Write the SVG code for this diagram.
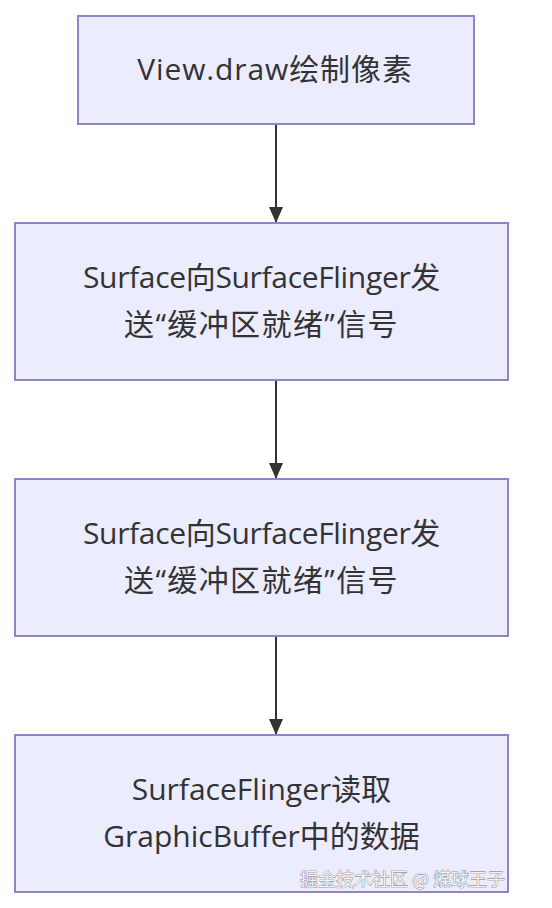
<svg xmlns="http://www.w3.org/2000/svg" width="552" height="908" viewBox="0 0 552 908">
<style>
.node rect{fill:#ECECFF;stroke:#9683c7;stroke-width:2}
.node text{font-family:"Open Sans","Noto Sans CJK SC",sans-serif;font-size:30px;fill:#333;text-anchor:middle}
.node text.l1{letter-spacing:-0.33px}
.node text.l2{letter-spacing:1.4px}
.edge{stroke:#333;stroke-width:2;fill:none}
.wm{font-family:"Noto Sans CJK SC",sans-serif;font-size:18px;fill:#f2f2f2;stroke:#6f6f6f;stroke-width:0.7;paint-order:stroke}
</style>
<defs>
<marker id="arrow" viewBox="0 0 16 14" refX="16" refY="7" markerWidth="16" markerHeight="14" markerUnits="userSpaceOnUse" orient="auto">
<path d="M0,0 L16,7 L0,14 Z" fill="#333"/>
</marker>
</defs>
<rect width="552" height="908" fill="#fff"/>
<g id="connectors">
<line class="edge" x1="276" y1="124" x2="276" y2="223" marker-end="url(#arrow)"/>
<line class="edge" x1="276" y1="380" x2="276" y2="479" marker-end="url(#arrow)"/>
<line class="edge" x1="276" y1="636" x2="276" y2="735" marker-end="url(#arrow)"/>
</g>
<g id="node1" class="node">
<rect x="78" y="16" width="396" height="108"/>
<text x="275" y="80" style="letter-spacing:0.9px">View.draw绘制像素</text>
</g>
<g id="node2" class="node">
<rect x="15" y="223" width="493" height="157"/>
<text class="l1" x="261.5" y="288">Surface向SurfaceFlinger发</text>
<text class="l2" x="261.5" y="335">送“缓冲区就绪”信号</text>
</g>
<g id="node3" class="node">
<rect x="15" y="479" width="493" height="157"/>
<text class="l1" x="261.5" y="544">Surface向SurfaceFlinger发</text>
<text class="l2" x="261.5" y="591">送“缓冲区就绪”信号</text>
</g>
<g id="node4" class="node">
<rect x="15" y="735" width="493" height="157"/>
<text x="261.5" y="800">SurfaceFlinger读取</text>
<text x="261.5" y="847">GraphicBuffer中的数据</text>
</g>
<text class="wm" x="505" y="886" text-anchor="end">掘金技术社区 @ 煤球王子</text>
</svg>
